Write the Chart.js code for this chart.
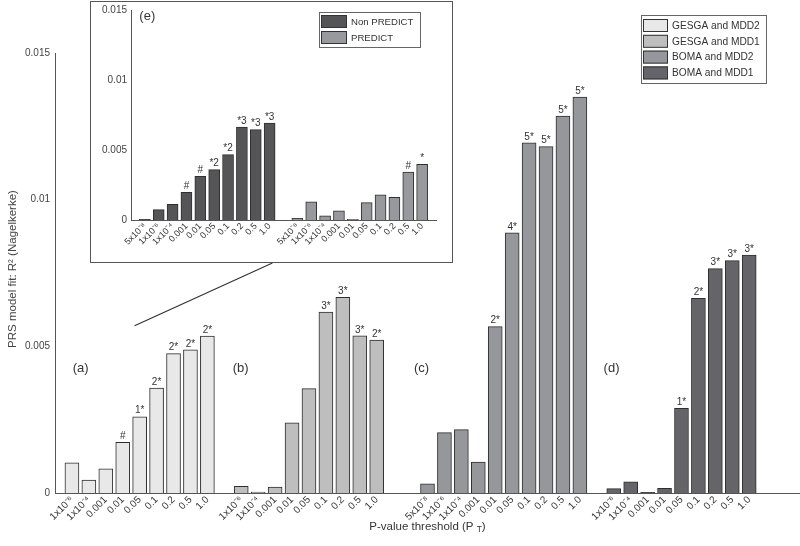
<!DOCTYPE html>
<html>
<head>
<meta charset="utf-8">
<script src="https://cdn.jsdelivr.net/npm/chart.js@4.4.1/dist/chart.umd.min.js"></script>
<style>
  body { margin: 0; background: #fff; }
  #wrap { position: relative; width: 800px; height: 546px; overflow: hidden; }
  #main { position: absolute; left: 0; top: 0; display: block; }
  #insetBox { position: absolute; left: 90px; top: 1px; width: 361px; height: 260px;
              border: 1px solid #555; background: #fff; }
  #inset { display: block; }
</style>
</head>
<body>
<div id="wrap">
  <canvas id="main" width="800" height="546"></canvas>
  <div id="insetBox"><canvas id="inset" width="361" height="260"></canvas></div>
</div>
<script>
// tick labels
const thresholds9 = ['1x10⁻⁶', '1x10⁻⁴', '0.001', '0.01', '0.05', '0.1', '0.2', '0.5', '1.0'];
const thresholds10 = ['5x10⁻⁸', '1x10⁻⁶', '1x10⁻⁴', '0.001', '0.01', '0.05', '0.1', '0.2', '0.5', '1.0'];

// main panels (a)-(d): R2 values
const gesgaMdd2 = [0.00103, 0.00044, 0.00082, 0.00173, 0.0026, 0.00358, 0.00475, 0.00488, 0.00535];
const gesgaMdd1 = [0.00023, 0.00003, 0.0002, 0.00239, 0.00356, 0.00617, 0.00667, 0.00536, 0.00521];
const bomaMdd2 = [0.00031, 0.00206, 0.00216, 0.00105, 0.00567, 0.00887, 0.01194, 0.01181, 0.01285, 0.0135];
const bomaMdd1 = [0.00015, 0.00038, 0.00002, 0.00016, 0.00289, 0.00664, 0.00765, 0.00792, 0.00811];

const gesgaMdd2Marks = ['', '', '', '#', '1*', '2*', '2*', '2*', '2*'];
const gesgaMdd1Marks = ['', '', '', '', '', '3*', '3*', '3*', '2*'];
const bomaMdd2Marks = ['', '', '', '', '2*', '4*', '5*', '5*', '5*', '5*'];
const bomaMdd1Marks = ['', '', '', '', '1*', '2*', '3*', '3*', '3*'];

// inset (e)
const nonPredict = [0.00005, 0.00074, 0.00112, 0.00198, 0.00312, 0.0036, 0.00467, 0.00664, 0.00645, 0.00693];
const predict = [0.00012, 0.0013, 0.0003, 0.00066, 0.00005, 0.00124, 0.00179, 0.00162, 0.00343, 0.00398];
const nonPredictMarks = ['', '', '', '#', '#', '*2', '*2', '*3', '*3', '*3'];
const predictMarks = ['', '', '', '', '', '', '', '', '#', '*'];

const yTicks = [0, 0.005, 0.01, 0.015];

// slot layout of the category axes
const mainSlots = 45;
const mainStarts = [1, 11, 22, 33];
const insetSlots = 23;
const insetStarts = [1, 12];

const FONT = '"Liberation Sans", Arial, sans-serif';
Chart.defaults.font.family = FONT;
Chart.defaults.color = '#333';

function spread(values, start, n) {
    let arr = new Array(n).fill(null);
    values.forEach((v, i) => { arr[start + i] = v; });
    return arr;
}

function buildLabels(groups, starts, n) {
    let arr = new Array(n).fill('');
    groups.forEach((g, gi) => {
        g.forEach((lab, i) => { arr[starts[gi] + i] = lab; });
    });
    return arr;
}

function yLabel(v) {
    return v === 0 ? '0' : String(+v.toFixed(3));
}

// labels on top of the bars
const marksPlugin = {
    id: 'marks',
    afterDatasetsDraw(chart, args, opts) {
        const ctx = chart.ctx;
        ctx.save();
        ctx.font = opts.size + 'px ' + FONT;
        ctx.fillStyle = '#333';
        ctx.textAlign = 'center';
        ctx.textBaseline = 'bottom';
        chart.data.datasets.forEach((ds, di) => {
            if (!ds.marks) return;
            const meta = chart.getDatasetMeta(di);
            meta.data.forEach((bar, i) => {
                const m = ds.marks[i];
                if (!m) return;
                ctx.fillText(m, bar.x, bar.y - 1);
            });
        });
        ctx.restore();
    }
};

// boxed legend
const boxLegend = {
    id: 'boxLegend',
    afterDraw(chart, args, o) {
        const ctx = chart.ctx;
        ctx.save();
        ctx.fillStyle = '#fff';
        ctx.fillRect(o.x, o.y, o.w, o.h);
        ctx.strokeStyle = '#666';
        ctx.lineWidth = 1;
        ctx.strokeRect(o.x + 0.5, o.y + 0.5, o.w, o.h);
        ctx.font = o.size + 'px ' + FONT;
        ctx.textBaseline = 'middle';
        ctx.textAlign = 'left';
        chart.data.datasets.forEach((ds, i) => {
            const top = o.y + o.pad + i * o.pitch;
            ctx.fillStyle = ds.backgroundColor;
            ctx.fillRect(o.x + 2, top, o.sw, o.sh);
            ctx.strokeStyle = '#333';
            ctx.strokeRect(o.x + 2.5, top + 0.5, o.sw - 1, o.sh - 1);
            ctx.fillStyle = '#333';
            ctx.fillText(ds.label, o.x + o.sw + 6, top + o.sh / 2 + 0.5);
        });
        ctx.restore();
    }
};

// panel letters
const panelLetters = {
    id: 'panelLetters',
    afterDraw(chart, args, o) {
        const ctx = chart.ctx;
        const xs = chart.scales.x, ys = chart.scales.y;
        ctx.save();
        ctx.font = o.size + 'px ' + FONT;
        ctx.fillStyle = '#333';
        ctx.textAlign = 'left';
        ctx.textBaseline = 'middle';
        o.texts.forEach((t, i) => {
            ctx.fillText(t, xs.getPixelForValue(o.slots[i]), ys.getPixelForValue(o.level));
        });
        ctx.restore();
    }
};

// axis titles, and line pointing from inset to panel (a)
let insetChart;
const mainExtras = {
    id: 'mainExtras',
    afterDraw(chart) {
        const ctx = chart.ctx;
        const area = chart.chartArea;
        ctx.save();
        ctx.fillStyle = '#333';
        ctx.textBaseline = 'middle';
        ctx.textAlign = 'left';
        const big = '11.5px ' + FONT, small = '8.5px ' + FONT;
        const t1 = 'P-value threshold (P ';
        ctx.font = big;
        const w1 = ctx.measureText(t1).width;
        const w3 = ctx.measureText(')').width;
        ctx.font = small;
        const w2 = ctx.measureText('T').width;
        let x = (area.left + area.right) / 2 - (w1 + w2 + w3) / 2;
        const y = 527;
        ctx.font = big;
        ctx.fillText(t1, x, y);
        ctx.fillText(')', x + w1 + w2, y);
        ctx.font = small;
        ctx.fillText('T', x + w1, y + 3);

        // y title
        ctx.save();
        ctx.translate(13, (area.top + area.bottom) / 2 - 4);
        ctx.rotate(-Math.PI / 2);
        ctx.textAlign = 'center';
        ctx.font = big;
        ctx.fillStyle = '#444';
        ctx.fillText('PRS model fit: R² (Nagelkerke)', 0, 0);
        ctx.restore();

        if (insetChart) {
            const box = document.getElementById('insetBox');
            const x1 = box.offsetLeft + box.clientLeft + insetChart.scales.x.getPixelForValue(10.2);
            const y1 = box.offsetTop + box.offsetHeight;
            const x2 = chart.scales.x.getPixelForValue(4.7);
            const y2 = chart.scales.y.getPixelForValue(0.0057);
            ctx.strokeStyle = '#333';
            ctx.lineWidth = 1.2;
            ctx.beginPath();
            ctx.moveTo(x1, y1);
            ctx.lineTo(x2, y2);
            ctx.stroke();
        }
        ctx.restore();
    }
};

function barSet(label, values, marks, start, n, color, thick) {
    return {
        label: label,
        data: spread(values, start, n),
        marks: spread(marks, start, n),
        backgroundColor: color,
        borderColor: '#2e2e2e',
        borderWidth: 1,
        barThickness: thick,
        grouped: false
    };
}

function yScale(width, pad, size) {
    return {
        min: 0,
        max: 0.015,
        afterBuildTicks: s => { s.ticks = yTicks.map(v => ({ value: v })); },
        afterFit: s => { s.width = width; s.paddingTop = 0; s.paddingBottom = 0; },
        ticks: { padding: pad, font: { size: size }, color: '#444', callback: yLabel },
        grid: { display: false, drawTicks: false },
        border: { display: true, color: '#555', width: 1 }
    };
}

function xScale(height, size) {
    return {
        offset: false,
        afterFit: s => { s.height = height; s.paddingLeft = 0; s.paddingRight = 0; },
        ticks: { autoSkip: false, maxRotation: 45, minRotation: 45, padding: 1, font: { size: size }, color: '#333' },
        grid: { display: false, drawTicks: false },
        border: { display: true, color: '#555', width: 1 }
    };
}

// inset chart
insetChart = new Chart(document.getElementById('inset'), {
    type: 'bar',
    data: {
        labels: buildLabels([thresholds10, thresholds10], insetStarts, insetSlots),
        datasets: [
            barSet('Non PREDICT', nonPredict, nonPredictMarks, insetStarts[0], insetSlots, '#555557', 11),
            barSet('PREDICT', predict, predictMarks, insetStarts[1], insetSlots, '#98999d', 11)
        ]
    },
    options: {
        responsive: false,
        animation: false,
        layout: { padding: { top: 8, right: 16, left: 0, bottom: 0 } },
        scales: {
            x: xScale(42, 9),
            y: yScale(40, 4, 10)
        },
        plugins: {
            legend: { display: false },
            tooltip: { enabled: false },
            marks: { size: 10 },
            boxLegend: { x: 228, y: 10, w: 101, h: 35, pad: 3, pitch: 16, sw: 26, sh: 13, size: 9.6 },
            panelLetters: { texts: ['(e)'], slots: [0.6], level: 0.01452, size: 13 }
        }
    },
    plugins: [marksPlugin, boxLegend, panelLetters]
});

// main chart
new Chart(document.getElementById('main'), {
    type: 'bar',
    data: {
        labels: buildLabels([thresholds9, thresholds9, thresholds10, thresholds9], mainStarts, mainSlots),
        datasets: [
            barSet('GESGA and MDD2', gesgaMdd2, gesgaMdd2Marks, mainStarts[0], mainSlots, '#e8e8e9', 14),
            barSet('GESGA and MDD1', gesgaMdd1, gesgaMdd1Marks, mainStarts[1], mainSlots, '#bebebf', 14),
            barSet('BOMA and MDD2', bomaMdd2, bomaMdd2Marks, mainStarts[2], mainSlots, '#96979b', 14),
            barSet('BOMA and MDD1', bomaMdd1, bomaMdd1Marks, mainStarts[3], mainSlots, '#656569', 14)
        ]
    },
    options: {
        responsive: false,
        animation: false,
        layout: { padding: { top: 53, right: 0, left: 0, bottom: 0 } },
        scales: {
            x: xScale(53, 10),
            y: yScale(55, 5, 10)
        },
        plugins: {
            legend: { display: false },
            tooltip: { enabled: false },
            marks: { size: 10 },
            boxLegend: { x: 641, y: 15, w: 125, h: 68, pad: 4, pitch: 15.8, sw: 25, sh: 13, size: 10.2 },
            panelLetters: { texts: ['(a)', '(b)', '(c)', '(d)'], slots: [1.05, 10.5, 21.2, 32.4], level: 0.00426, size: 13 }
        }
    },
    plugins: [marksPlugin, boxLegend, panelLetters, mainExtras]
});
</script>
</body>
</html>
